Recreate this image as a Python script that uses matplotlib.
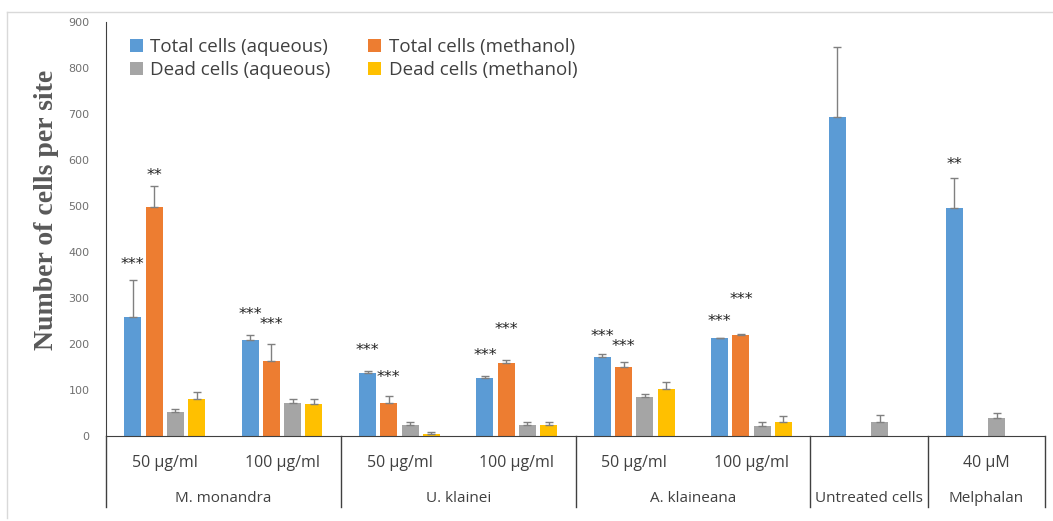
import numpy as np
import matplotlib.pyplot as plt
from matplotlib.lines import Line2D

nan = np.nan

sub_labels = ["50 µg/ml", "100 µg/ml", "50 µg/ml", "100 µg/ml", "50 µg/ml", "100 µg/ml", "", "40 µM"]
group_labels = ["M. monandra", "U. klainei", "A. klaineana", "Untreated cells", "Melphalan"]
group_spans = [(0, 2), (2, 4), (4, 6), (6, 7), (7, 8)]

series_names = ["Total cells (aqueous)", "Total cells (methanol)", "Dead cells (aqueous)", "Dead cells (methanol)"]
total_aq = [259, 209, 138, 126, 171, 213, 694, 496]
total_aq_err = [80, 11, 4, 5, 7, 1, 151, 64]
total_me = [497, 162, 71, 159, 150, 220, nan, nan]
total_me_err = [47, 37, 17, 6, 11, 1, nan, nan]
dead_aq = [52, 72, 25, 25, 85, 21, 31, 40]
dead_aq_err = [6, 9, 6, 5, 7, 9, 15, 9]
dead_me = [81, 70, 5, 25, 103, 31, nan, nan]
dead_me_err = [15, 11, 4, 5, 14, 13, nan, nan]

# significance marks above the total-cell bars
stars_aq = ["***", "***", "***", "***", "***", "***", "", "**"]
stars_aq_y = [372, 264, 186, 175, 217, 249, nan, 591]
stars_me = ["**", "***", "***", "***", "***", "***", "", ""]
stars_me_y = [567, 242, 127, 231, 194, 296, nan, nan]

colors = ["#5B9BD5", "#ED7D31", "#A5A5A5", "#FFC000"]
values = [total_aq, total_me, dead_aq, dead_me]
errors = [total_aq_err, total_me_err, dead_aq_err, dead_me_err]

fig = plt.figure(figsize=(10.53, 5.21), dpi=100)
ax = fig.add_axes([0.1007, 0.1631, 0.8917, 0.7947])

x = np.arange(len(sub_labels)) + 0.5
w = 0.145
step = 0.181
for k in range(4):
    xs = x + (k - 1.5) * step
    v = np.array(values[k], dtype=float)
    e = np.array(errors[k], dtype=float)
    ax.bar(xs, v, w, color=colors[k], label=series_names[k], zorder=2)
    ax.errorbar(xs, v, yerr=[np.zeros_like(e), e], fmt="none", ecolor="#808080",
                elinewidth=1, capsize=3, capthick=1, zorder=3)

for i in range(len(x)):
    if stars_aq[i]:
        ax.text(x[i] - 1.5 * step, stars_aq_y[i], stars_aq[i], ha="center", va="center", fontsize=11.5, color="#222222")
    if stars_me[i]:
        ax.text(x[i] - 0.5 * step, stars_me_y[i], stars_me[i], ha="center", va="center", fontsize=11.5, color="#222222")

ax.set_xlim(0, 8)
ax.set_ylim(0, 900)
ax.set_yticks(np.arange(0, 901, 100))
ax.tick_params(axis="y", length=0, labelsize=8, labelcolor="#707070", pad=12)
ax.set_xticks([])
for s in ["top", "right"]:
    ax.spines[s].set_visible(False)
ax.spines["left"].set_color("#404040")
ax.spines["bottom"].set_color("#404040")

ax.set_ylabel("Number of cells per site", family="Liberation Serif", fontweight="bold",
              fontsize=20, color="#595959")
ax.yaxis.set_label_coords(-0.05, 0.545)

# category table below the axis
tr = ax.get_xaxis_transform()
for sep in [0, 2, 4, 6, 7, 8]:
    ax.add_line(Line2D([sep, sep], [0, -0.1715], transform=tr, color="#404040", lw=1, clip_on=False))
for i, lab in enumerate(sub_labels):
    ax.text(x[i], -0.065, lab, transform=tr, ha="center", va="center", fontsize=11.5,
            family="Open Sans", color="#404040")
for lab, (a, b) in zip(group_labels, group_spans):
    ax.text((a + b) / 2, -0.152, lab, transform=tr, ha="center", va="center", fontsize=11,
            family="Open Sans", color="#404040")

handles, labels = ax.get_legend_handles_labels()
order = [0, 2, 1, 3]
leg = fig.legend([handles[i] for i in order], [labels[i] for i in order], ncol=2,
                 loc="upper left", bbox_to_anchor=(0.107, 0.96), frameon=False,
                 prop={"family": "Open Sans", "size": 13.5},
                 handlelength=0.7, handleheight=0.7,
                 handletextpad=0.4, columnspacing=2.0, labelspacing=0.3)
for t in leg.get_texts():
    t.set_color("#404040")

# thin frame around the chart
fig.add_artist(Line2D([7 / 1053, 1], [1 - 12 / 521, 1 - 12 / 521], color="#d9d9d9", lw=1))
fig.add_artist(Line2D([7 / 1053, 7 / 1053], [1 - 12 / 521, 1 - 518 / 521], color="#d9d9d9", lw=1))

fig.savefig("out.png", dpi=100)
